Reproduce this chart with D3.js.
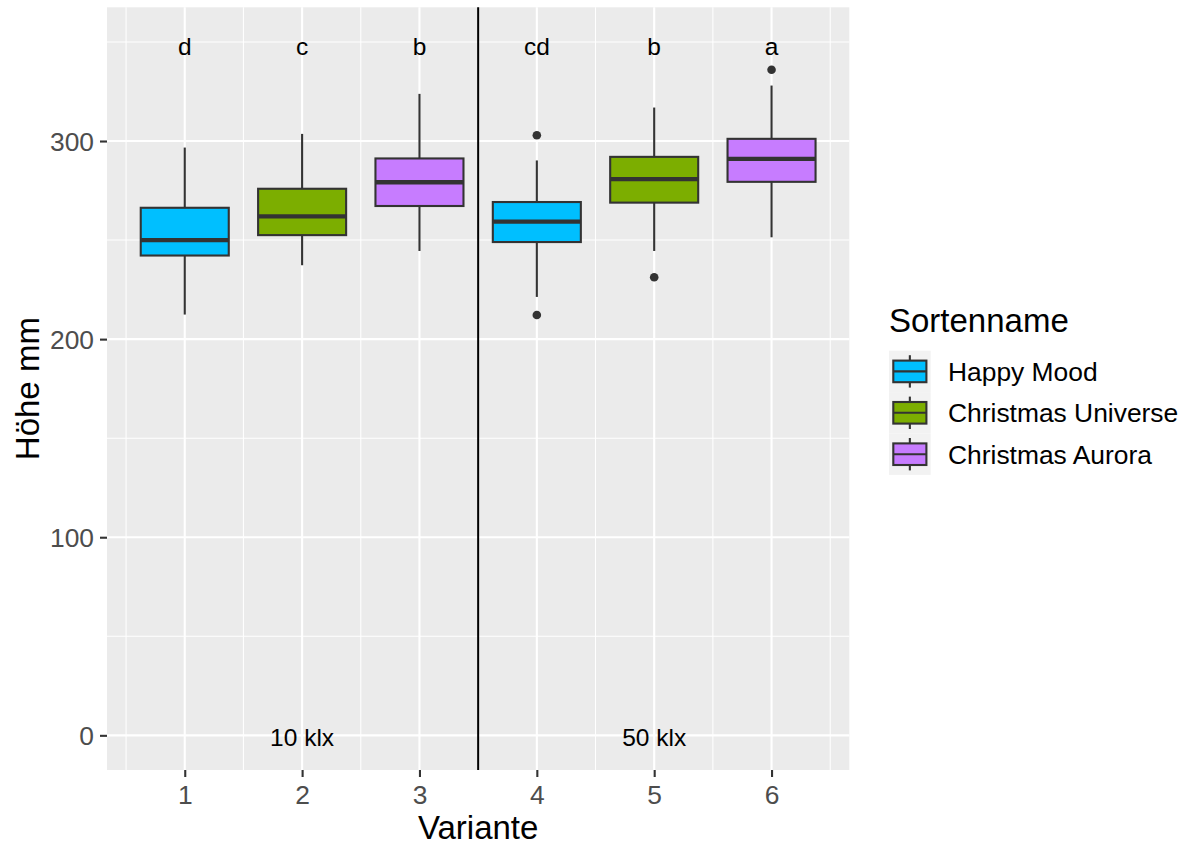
<!DOCTYPE html>
<html>
<head>
<meta charset="utf-8">
<script src="https://cdn.jsdelivr.net/npm/d3@7"></script>
<style>
  html, body { margin: 0; padding: 0; background: #fff; }
  svg { display: block; font-family: "Liberation Sans", Arial, sans-serif; }
</style>
</head>
<body>
<svg id="chart" width="1190" height="845"></svg>
<script>
// Plant height per variant (boxplot statistics, mm)
const variants   = [1, 2, 3, 4, 5, 6];
const sorten     = ["Happy Mood", "Christmas Universe", "Christmas Aurora",
                    "Happy Mood", "Christmas Universe", "Christmas Aurora"];
const whiskerLow = [212.4, 237.3, 244.5, 221.3, 244.5, 251.4];
const q1         = [242.2, 252.5, 267.2, 249.0, 268.9, 279.4];
const median     = [250.0, 262.0, 279.2, 259.3, 280.8, 291.0];
const q3         = [266.3, 275.9, 291.2, 269.2, 292.0, 301.1];
const whiskerHigh= [296.7, 303.6, 323.8, 290.2, 316.9, 328.0];
const outliers   = [[], [], [], [302.9, 212.2], [231.2], [336.0]];

// Significance letters and light level labels
const letters    = ["d", "c", "b", "cd", "b", "a"];
const letterY    = 349;
const lightLabels = ["10 klx", "50 klx"];
const lightX      = [2, 5];
const lightY      = 0;
const separatorX  = 3.5;

const sortenNames  = ["Happy Mood", "Christmas Universe", "Christmas Aurora"];
const sortenColors = ["#00BFFF", "#7CAE00", "#C77CFF"];

const yTicks = [0, 100, 200, 300];
const yMinor = [50, 150, 250, 350];
const xMinor = [0.5, 1.5, 2.5, 3.5, 4.5, 5.5, 6.5];

const panel = { left: 107, right: 849.3, top: 7.3, bottom: 770 };
const boxWidth = 0.75;

const svg = d3.select("#chart");
const x = d3.scaleLinear().domain([0.3375, 6.6625]).range([panel.left, panel.right]);
const y = d3.scaleLinear().domain([-17.5, 367.5]).range([panel.bottom, panel.top]);
const fill = d3.scaleOrdinal().domain(sortenNames).range(sortenColors);

// panel background
svg.append("rect")
  .attr("x", panel.left).attr("y", panel.top)
  .attr("width", panel.right - panel.left).attr("height", panel.bottom - panel.top)
  .attr("fill", "#EBEBEB");

const grid = svg.append("g");
grid.selectAll(".ymin").data(yMinor).join("line")
  .attr("x1", panel.left).attr("x2", panel.right)
  .attr("y1", d => y(d)).attr("y2", d => y(d))
  .attr("stroke", "#fff").attr("stroke-width", 1.05);
grid.selectAll(".xmin").data(xMinor).join("line")
  .attr("y1", panel.top).attr("y2", panel.bottom)
  .attr("x1", d => x(d)).attr("x2", d => x(d))
  .attr("stroke", "#fff").attr("stroke-width", 1.05);
grid.selectAll(".ymaj").data(yTicks).join("line")
  .attr("x1", panel.left).attr("x2", panel.right)
  .attr("y1", d => y(d)).attr("y2", d => y(d))
  .attr("stroke", "#fff").attr("stroke-width", 2.1);
grid.selectAll(".xmaj").data(variants).join("line")
  .attr("y1", panel.top).attr("y2", panel.bottom)
  .attr("x1", d => x(d)).attr("x2", d => x(d))
  .attr("stroke", "#fff").attr("stroke-width", 2.1);

// boxplots
const boxes = svg.append("g");
variants.forEach((v, i) => {
  const g = boxes.append("g");
  const cx = x(v);
  const hw = (x(v + boxWidth / 2) - x(v - boxWidth / 2)) / 2;
  g.append("line").attr("x1", cx).attr("x2", cx)
    .attr("y1", y(whiskerHigh[i])).attr("y2", y(q3[i]))
    .attr("stroke", "#333333").attr("stroke-width", 2.1);
  g.append("line").attr("x1", cx).attr("x2", cx)
    .attr("y1", y(q1[i])).attr("y2", y(whiskerLow[i]))
    .attr("stroke", "#333333").attr("stroke-width", 2.1);
  g.append("rect")
    .attr("x", cx - hw).attr("width", 2 * hw)
    .attr("y", y(q3[i])).attr("height", y(q1[i]) - y(q3[i]))
    .attr("fill", fill(sorten[i])).attr("stroke", "#333333").attr("stroke-width", 2.1);
  g.append("line").attr("x1", cx - hw).attr("x2", cx + hw)
    .attr("y1", y(median[i])).attr("y2", y(median[i]))
    .attr("stroke", "#333333").attr("stroke-width", 4.3);
  g.selectAll("circle").data(outliers[i]).join("circle")
    .attr("cx", cx).attr("cy", d => y(d)).attr("r", 4.3)
    .attr("fill", "#333333");
});

// separator between light levels
svg.append("line")
  .attr("x1", x(separatorX)).attr("x2", x(separatorX))
  .attr("y1", panel.top).attr("y2", panel.bottom)
  .attr("stroke", "#000").attr("stroke-width", 2);

// annotations
const annFs = 24.5;
svg.append("g").selectAll("text").data(letters).join("text")
  .attr("x", (d, i) => x(variants[i]))
  .attr("y", y(letterY) + annFs * 0.45)
  .attr("text-anchor", "middle").attr("font-size", annFs).attr("fill", "#000")
  .text(d => d);
svg.append("g").selectAll("text").data(lightLabels).join("text")
  .attr("x", (d, i) => x(lightX[i]))
  .attr("y", y(lightY) + annFs * 0.45)
  .attr("text-anchor", "middle").attr("font-size", annFs).attr("fill", "#000")
  .text(d => d);

// axes
const tickFs = 26.4;
const xAxis = svg.append("g")
  .attr("transform", `translate(0,${panel.bottom})`)
  .call(d3.axisBottom(x).tickValues(variants).tickFormat(d3.format("d"))
        .tickSize(7).tickPadding(8));
const yAxis = svg.append("g")
  .attr("transform", `translate(${panel.left},0)`)
  .call(d3.axisLeft(y).tickValues(yTicks).tickFormat(d3.format("d"))
        .tickSize(7).tickPadding(6));
[xAxis, yAxis].forEach(a => {
  a.select(".domain").remove();
  a.selectAll(".tick line").attr("stroke", "#333333").attr("stroke-width", 2.1);
  a.selectAll(".tick text").attr("fill", "#4D4D4D").attr("font-size", tickFs)
    .attr("font-family", "Liberation Sans, Arial, sans-serif");
});
yAxis.selectAll(".tick text").attr("dy", "0.36em");

// axis titles
svg.append("text")
  .attr("x", (panel.left + panel.right) / 2).attr("y", 839)
  .attr("text-anchor", "middle").attr("font-size", 33).attr("fill", "#000")
  .text("Variante");
svg.append("text")
  .attr("transform", `translate(39,${(panel.top + panel.bottom) / 2}) rotate(-90)`)
  .attr("text-anchor", "middle").attr("font-size", 33).attr("fill", "#000")
  .text("Höhe mm");

// legend
const legend = svg.append("g");
legend.append("text")
  .attr("x", 889).attr("y", 332)
  .attr("font-size", 33).attr("fill", "#000")
  .text("Sortenname");
const keyTop = 350.7, keyH = 41.4, keyX = 889, keyW = 41.7;
sortenNames.forEach((name, i) => {
  const top = keyTop + i * keyH;
  const cy = top + keyH / 2;
  const cx = keyX + keyW / 2;
  legend.append("rect")
    .attr("x", keyX).attr("y", top).attr("width", keyW).attr("height", keyH)
    .attr("fill", "#F2F2F2");
  legend.append("line").attr("x1", cx).attr("x2", cx)
    .attr("y1", top + 4.5).attr("y2", top + keyH - 4.5)
    .attr("stroke", "#333333").attr("stroke-width", 2.1);
  legend.append("rect")
    .attr("x", keyX + 4.3).attr("y", cy - 10.8).attr("width", keyW - 8.6).attr("height", 21.6)
    .attr("fill", fill(name)).attr("stroke", "#333333").attr("stroke-width", 2.1);
  legend.append("line").attr("x1", keyX + 4.3).attr("x2", keyX + keyW - 4.3)
    .attr("y1", cy).attr("y2", cy)
    .attr("stroke", "#333333").attr("stroke-width", 2.1);
  legend.append("text")
    .attr("x", 948).attr("y", cy + tickFs * 0.36)
    .attr("font-size", tickFs).attr("fill", "#000")
    .text(name);
});
</script>
</body>
</html>
